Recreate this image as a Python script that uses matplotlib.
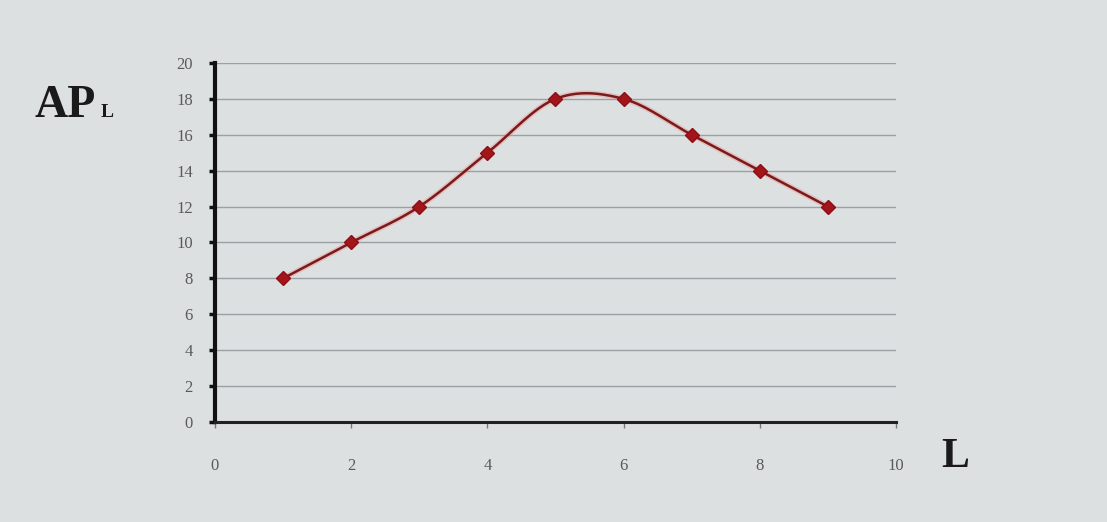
import numpy as np
import matplotlib.pyplot as plt

# Labour input L and average product of labour AP_L
labour = [1, 2, 3, 4, 5, 6, 7, 8, 9]
ap_l = [8, 10, 12, 15, 18, 18, 16, 14, 12]
x_ticks = [0, 2, 4, 6, 8, 10]
y_ticks = [0, 2, 4, 6, 8, 10, 12, 14, 16, 18, 20]


def smooth_curve(xs, ys, steps=30):
    """Catmull-Rom style smoothing through the points (spreadsheet 'smoothed line')."""
    xs = np.asarray(xs, float)
    ys = np.asarray(ys, float)
    px = np.concatenate([[2 * xs[0] - xs[1]], xs, [2 * xs[-1] - xs[-2]]])
    py = np.concatenate([[2 * ys[0] - ys[1]], ys, [2 * ys[-1] - ys[-2]]])
    out_x, out_y = [], []
    for i in range(1, len(px) - 2):
        t = np.linspace(0, 1, steps, endpoint=(i == len(px) - 3))
        p0, p1, p2, p3 = (np.array([px[j], py[j]]) for j in (i - 1, i, i + 1, i + 2))
        b1 = p1 + (p2 - p0) / 6
        b2 = p2 - (p3 - p1) / 6
        pts = ((1 - t) ** 3)[:, None] * p1 + (3 * (1 - t) ** 2 * t)[:, None] * b1 \
            + (3 * (1 - t) * t ** 2)[:, None] * b2 + (t ** 3)[:, None] * p2
        out_x.extend(pts[:, 0])
        out_y.extend(pts[:, 1])
    return np.array(out_x), np.array(out_y)


bg = "#dde0e1"
fig = plt.figure(figsize=(11.07, 5.22), dpi=100, facecolor=bg)
ax = fig.add_axes([0.1942, 0.1916, 0.6152, 0.6877], facecolor=bg)

ax.set_xlim(0, 10)
ax.set_ylim(0, 20)
ax.set_xticks(x_ticks)
ax.set_yticks(y_ticks)

serif = ["Liberation Serif", "DejaVu Serif"]
ax.set_xticklabels([str(v) for v in x_ticks], family=serif, fontsize=12, color="#5a5a5a")
ax.set_yticklabels([str(v) for v in y_ticks], family=serif, fontsize=12, color="#5a5a5a")

ax.grid(axis="y", color="#9aa0a3", linewidth=1.0)
ax.set_axisbelow(True)
for side in ("top", "right"):
    ax.spines[side].set_visible(False)
ax.spines["left"].set_linewidth(3)
ax.spines["bottom"].set_linewidth(2.2)
ax.spines["left"].set_color("#111111")
ax.spines["bottom"].set_color("#222222")
ax.tick_params(axis="y", length=4, width=2.5, pad=12, color="#111111")
ax.tick_params(axis="x", length=4, width=1, pad=22, color="#777777")

sx, sy = smooth_curve(labour, ap_l)
ax.plot(sx, sy, color="#f08080", linewidth=4, alpha=0.35, solid_capstyle="round")
ax.plot(sx, sy, color="#7a1a1a", linewidth=1.8)
ax.plot(labour, ap_l, linestyle="none", marker="D", markersize=7,
        markerfacecolor="#a3151a", markeredgecolor="#8a1015", zorder=5)

fig.text(0.031, 0.776, "AP", family=serif, fontsize=33, fontweight="bold",
         color="#1a1a1a", va="baseline")
fig.text(0.091, 0.776, "L", family=serif, fontsize=14, fontweight="bold",
         color="#1a1a1a", va="baseline")
fig.text(0.850, 0.105, "L", family=serif, fontsize=30, fontweight="bold", color="#1a1a1a")

fig.savefig("out.png", dpi=100, facecolor=bg)
